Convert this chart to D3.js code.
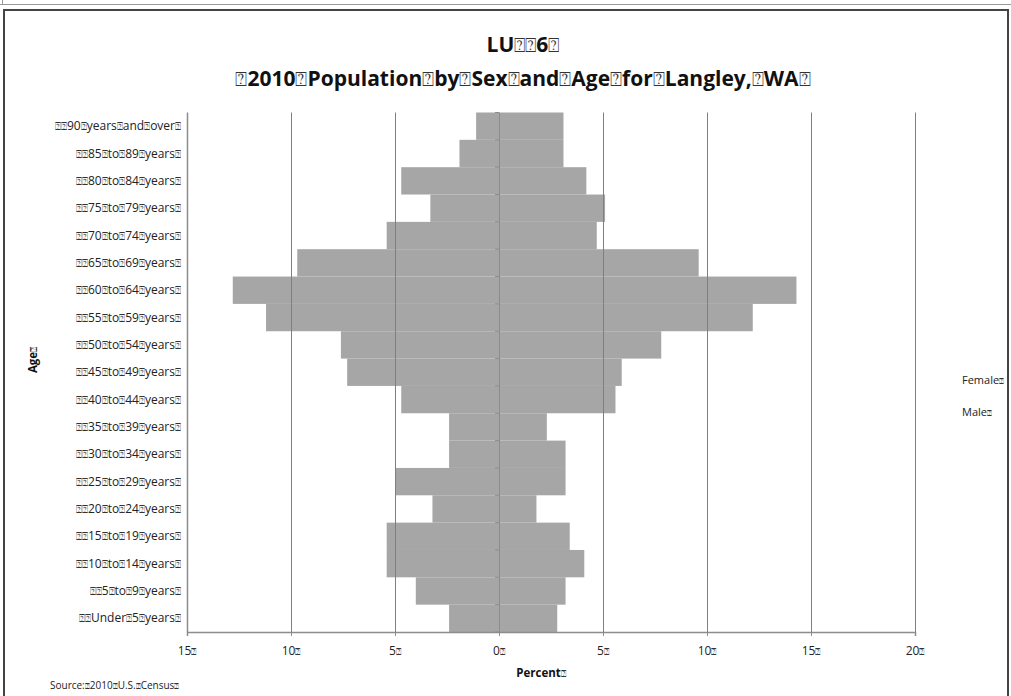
<!DOCTYPE html>
<html><head><meta charset="utf-8">
<script src="https://cdn.jsdelivr.net/npm/d3@7"></script>
<style>
html,body{margin:0;padding:0;background:#fff;}
svg{display:block;font-family:"Open Sans",Lato,sans-serif;}
</style></head><body>
<svg id="c" width="1011" height="696"></svg>
<script>
const BOX = "\u2370";
const categories = ["90 years and over","85 to 89 years","80 to 84 years","75 to 79 years","70 to 74 years",
  "65 to 69 years","60 to 64 years","55 to 59 years","50 to 54 years","45 to 49 years","40 to 44 years",
  "35 to 39 years","30 to 34 years","25 to 29 years","20 to 24 years","15 to 19 years","10 to 14 years",
  "5 to 9 years","Under 5 years"];
const male =   [1.1, 1.9, 4.7, 3.3, 5.4, 9.7, 12.8, 11.2, 7.6, 7.3, 4.7, 2.4, 2.4, 5.0, 3.2, 5.4, 5.4, 4.0, 2.4];
const female = [3.1, 3.1, 4.2, 5.1, 4.7, 9.6, 14.3, 12.2, 7.8, 5.9, 5.6, 2.3, 3.2, 3.2, 1.8, 3.4, 4.1, 3.2, 2.8];
const xTicks = [-15,-10,-5,0,5,10,15,20];
const titleLine1 = "LU" + BOX + BOX + "6" + BOX;
const titleLine2 = BOX + "2010 Population by Sex and Age for Langley, WA".replace(/ /g, BOX) + BOX;
const legendLabels = ["Female","Male"];
const source = "Source: 2010 U.S. Census";

const svg = d3.select("#c");
const x = d3.scaleLinear().domain([-15,20]).range([187,915]);
const y = d3.scaleBand().domain(categories).range([112.5,632]).padding(0);

function boxText(sel, str, scale){
  const parts = str.split(BOX);
  parts.forEach((p,i)=>{
    if(p) sel.append("tspan").text(p);
    if(i<parts.length-1) sel.append("tspan").attr("font-size",(scale||0.75)+"em").attr("font-weight","normal").attr("fill","#333").text(BOX);
  });
}

// frames
svg.append("line").attr("x1",0).attr("x2",1011).attr("y1",4.5).attr("y2",4.5).attr("stroke","#999").attr("stroke-width",1);
svg.append("line").attr("x1",2.5).attr("x2",2.5).attr("y1",0).attr("y2",5).attr("stroke","#999");
svg.append("rect").attr("x",4).attr("y",10).attr("width",1004).attr("height",700)
  .attr("fill","none").attr("stroke","#444").attr("stroke-width",2);

// bars
const g = svg.append("g");
g.selectAll(".m").data(categories).join("rect")
  .attr("x",(d,i)=>x(-male[i])).attr("y",d=>y(d))
  .attr("width",(d,i)=>x(0)-x(-male[i])).attr("height",y.bandwidth())
  .attr("fill","#a6a6a6");
g.selectAll(".f").data(categories).join("rect")
  .attr("x",x(0)).attr("y",d=>y(d))
  .attr("width",(d,i)=>x(female[i])-x(0)).attr("height",y.bandwidth())
  .attr("fill","#a6a6a6");

// gridlines
svg.append("g").selectAll("line").data(xTicks.filter(t=>t!==0 && t!==-15)).join("line")
  .attr("x1",d=>x(d)+0.5).attr("x2",d=>x(d)+0.5).attr("y1",112.5).attr("y2",632)
  .attr("stroke","#7f7f7f").attr("stroke-width",1);
svg.append("line").attr("x1",x(-15)+0.5).attr("x2",x(-15)+0.5).attr("y1",112.5).attr("y2",632)
  .attr("stroke","#8c8c8c").attr("stroke-width",1.5);
svg.append("line").attr("x1",x(0)+0.5).attr("x2",x(0)+0.5).attr("y1",112.5).attr("y2",632)
  .attr("stroke","#8c8c8c").attr("stroke-width",1);
const bounds = categories.map(c=>y(c)).concat([632]);
svg.append("g").selectAll("line").data(bounds).join("line")
  .attr("x1",x(0)-4).attr("x2",x(0)).attr("y1",d=>d).attr("y2",d=>d)
  .attr("stroke","#8c8c8c");

// x axis
const xa = svg.append("g").attr("transform","translate(0,632)");
xa.call(d3.axisBottom(x).tickValues(xTicks).tickSize(4).tickFormat(""));
xa.select(".domain").attr("stroke","#8c8c8c").attr("stroke-width",1.5);
xa.selectAll(".tick line").attr("stroke","#8c8c8c");
xTicks.forEach(t=>{
  const tx = svg.append("text").attr("x",x(t)).attr("y",655).attr("text-anchor","middle")
    .attr("font-size",12).attr("fill","#222");
  boxText(tx, Math.abs(t) + BOX, 0.75);
});

// y labels
categories.forEach(c=>{
  const tx = svg.append("text").attr("x",181).attr("y",y(c)+y.bandwidth()/2+4).attr("text-anchor","end")
    .attr("font-size",12).attr("fill","#222");
  boxText(tx, BOX+BOX+c.replace(/ /g,BOX)+BOX, 0.85);
});

// titles
const t1 = svg.append("text").attr("x",523).attr("y",52).attr("text-anchor","middle")
  .attr("font-size",21).attr("font-weight","bold").attr("fill","#111");
boxText(t1,titleLine1,0.9);
const t2 = svg.append("text").attr("x",523).attr("y",86).attr("text-anchor","middle")
  .attr("font-size",21).attr("font-weight","bold").attr("fill","#111");
boxText(t2,titleLine2,0.95);

// axis titles
const xt = svg.append("text").attr("x",541).attr("y",677).attr("text-anchor","middle")
  .attr("font-size",11.5).attr("font-weight","bold").attr("fill","#111");
boxText(xt,"Percent"+BOX,0.75);
const yt = svg.append("text").attr("transform","translate(37,360) rotate(-90)").attr("text-anchor","middle")
  .attr("font-size",11.5).attr("font-weight","bold").attr("fill","#111");
boxText(yt,"Age"+BOX,0.75);

// legend
legendLabels.forEach((l,i)=>{
  const tx = svg.append("text").attr("x",962).attr("y",384+i*32).attr("font-size",11).attr("fill","#222");
  boxText(tx,l+BOX,0.75);
});

// source
const st = svg.append("text").attr("x",50).attr("y",689).attr("font-size",10).attr("fill","#222");
boxText(st, source.replace(/ /g,BOX)+BOX,0.8);
</script>
</body></html>
